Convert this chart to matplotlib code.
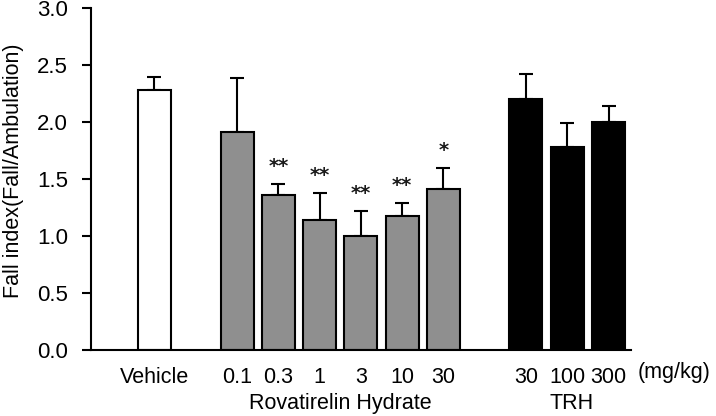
import matplotlib
matplotlib.use("Agg")
import matplotlib.pyplot as plt
import numpy as np

plt.rcParams['font.family'] = ['Liberation Sans', 'DejaVu Sans']

# Data
groups = ["Vehicle", "Rovatirelin Hydrate", "TRH"]
tick_labels = ["Vehicle", "0.1", "0.3", "1", "3", "10", "30", "30", "100", "300"]
group_of = [0, 1, 1, 1, 1, 1, 1, 2, 2, 2]
means = [2.28, 1.91, 1.36, 1.14, 1.00, 1.18, 1.41, 2.20, 1.78, 2.00]
sems = [0.12, 0.48, 0.10, 0.24, 0.22, 0.11, 0.19, 0.22, 0.21, 0.14]
signif = ["", "", "**", "**", "**", "**", "*", "", "", ""]
positions = [0, 2, 3, 4, 5, 6, 7, 9, 10, 11]
group_colors = ["white", "#8f8f8f", "black"]
yticks = [0.0, 0.5, 1.0, 1.5, 2.0, 2.5, 3.0]

fig = plt.figure(figsize=(7.16, 4.16), dpi=100)
ax = fig.add_axes([0.127, 0.1587, 0.754, 0.8213])

colors = [group_colors[g] for g in group_of]
ax.bar(positions, means, width=0.8, color=colors, edgecolor="black", linewidth=1.5, zorder=2)
ax.errorbar(positions, means, yerr=[np.zeros(len(sems)), sems], fmt="none",
            ecolor="black", elinewidth=1.5, capsize=5, capthick=1.5, zorder=1)

for x, m, s, sig in zip(positions, means, sems, signif):
    if sig:
        ax.text(x, m + s + 0.07, sig, ha="center", va="bottom", fontsize=14,
                fontweight="bold", color="#1a1a1a", family="DejaVu Sans")

ax.set_ylim(0, 3.0)
ax.set_xlim(-1.54, 11.54)
ax.set_yticks(yticks)
ax.set_yticklabels([f"{v:.1f}" for v in yticks], fontsize=16)
ax.set_xticks(positions)
ax.set_xticklabels(tick_labels, fontsize=15.5)
ax.tick_params(axis="x", length=0, pad=12)
ax.tick_params(axis="y", direction="out", length=6.5, width=1.5, pad=10)
for sp in ["top", "right"]:
    ax.spines[sp].set_visible(False)
ax.spines["left"].set_linewidth(1.5)
ax.spines["bottom"].set_linewidth(1.5)

ax.set_ylabel("Fall index(Fall/Ambulation)", fontsize=15.5)
ax.yaxis.set_label_coords(-0.124, 0.526)

ax.text(4.5, -0.47, groups[1], ha="center", va="center", fontsize=15.5,
        transform=ax.transData, clip_on=False)
ax.text(10.1, -0.47, groups[2], ha="center", va="center", fontsize=15.5,
        transform=ax.transData, clip_on=False)
ax.text(12.6, -0.2, "(mg/kg)", ha="center", va="center", fontsize=15.5,
        transform=ax.transData, clip_on=False)

fig.savefig("out.png", dpi=100)
